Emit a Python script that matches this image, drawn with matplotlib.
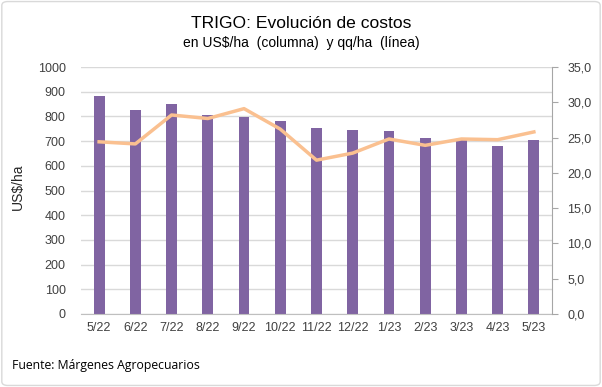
import numpy as np
import matplotlib.pyplot as plt
from matplotlib.patches import FancyBboxPatch

meses = ["5/22", "6/22", "7/22", "8/22", "9/22", "10/22", "11/22",
         "12/22", "1/23", "2/23", "3/23", "4/23", "5/23"]
costo_usd = [882, 827, 850, 805, 797, 781, 753, 745, 742, 714, 708, 680, 704]
costo_qq = [24.4, 24.1, 28.2, 27.7, 29.1, 26.2, 21.8, 22.8, 24.8, 23.9, 24.8, 24.7, 25.8]

plt.rcParams["font.family"] = ["Liberation Sans", "DejaVu Sans"]

fig = plt.figure(figsize=(6.02, 3.87), dpi=100)
ax = fig.add_axes([81 / 602, 1 - 314 / 387, 471 / 602, 247 / 387])
x = np.arange(len(meses))

ax.bar(x, costo_usd, width=0.3, color="#8064A2", zorder=2)
ax.set_xlim(-0.5, len(meses) - 0.5)
ax.set_ylim(0, 1000)
ax.set_yticks(np.arange(0, 1001, 100))
ax.grid(axis="y", color="#D9D9D9", linewidth=1, zorder=0)
ax.set_axisbelow(True)
ax.set_xticks(x)
ax.set_xticklabels(meses)
ax.tick_params(axis="both", length=0, labelsize=9, colors="#404040")
ax.tick_params(axis="x", pad=6)
ax.tick_params(axis="y", pad=11)
for s in ["top", "right", "left"]:
    ax.spines[s].set_visible(False)
ax.spines["bottom"].set_color("#BFBFBF")

ax2 = ax.twinx()
ax2.plot(x, costo_qq, color="#FAC090", linewidth=2.5, zorder=3)
ax2.set_ylim(0, 35)
ax2.set_yticks(np.arange(0, 35.1, 5))
ax2.set_yticklabels([f"{v:.1f}".replace(".", ",") for v in np.arange(0, 35.1, 5)])
ax2.tick_params(axis="y", length=4, color="#A6A6A6", labelsize=9, colors="#404040", pad=7)
ax2.tick_params(axis="y", color="#A6A6A6")
for s in ["top", "left", "bottom"]:
    ax2.spines[s].set_visible(False)
ax2.spines["right"].set_color("#A6A6A6")

fig.text(18 / 602, 1 - 187 / 387, "US$/ha", rotation=90, ha="center", va="center",
         fontsize=10, color="#262626")
fig.text(0.5, 1 - 23 / 387, "TRIGO: Evolución de costos", ha="center", va="center",
         fontsize=12.6, color="#000000")
fig.text(0.5, 1 - 43 / 387, "en US$/ha  (columna)  y qq/ha  (línea)", ha="center", va="center",
         fontsize=10, color="#000000")
fig.text(12 / 602, 1 - 366 / 387, "Fuente: Márgenes Agropecuarios", ha="left", va="center",
         fontsize=8.8, family=["Open Sans", "DejaVu Sans"], color="#000000")

border = FancyBboxPatch((0.003, 0.004), 0.994, 0.992, boxstyle="round,pad=0,rounding_size=0.01",
                        transform=fig.transFigure, fill=False, edgecolor="#D9D9D9", linewidth=1)
fig.patches.append(border)

fig.savefig("out.png", dpi=100)
